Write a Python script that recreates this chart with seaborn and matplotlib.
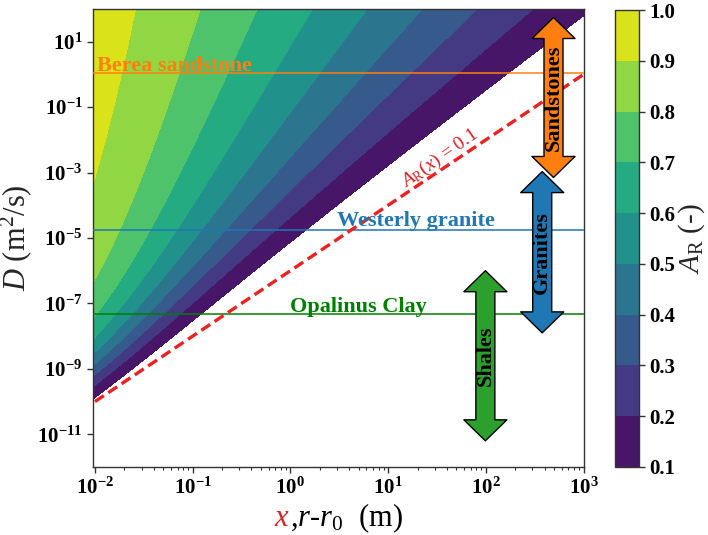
import numpy as np
import matplotlib
matplotlib.use("Agg")
import matplotlib.pyplot as plt
import seaborn as sns
from matplotlib.patches import ArrowStyle, FancyArrowPatch
from matplotlib.path import Path
from matplotlib.offsetbox import TextArea, HPacker, AnchoredOffsetbox
from matplotlib.ticker import NullLocator, LogLocator, FixedLocator

# ---------------- data ----------------
x_limits = [10 ** -2.02, 10 ** 3.005]          # x, r - r0 (m)
D_limits = [1e-12, 1e2]                          # D (m^2/s)
levels = [0.1, 0.2, 0.3, 0.4, 0.5, 0.6, 0.7, 0.8, 0.9, 1.0]
period_days = 7.0                                # forcing period
r0 = 0.01                                        # borehole radius (m)

material_names = ["Berea sandstone", "Westerly granite", "Opalinus Clay"]
material_D = [1.1, 1.8e-5, 4.6e-8]
material_line_colors = ["#ff7f0e", "#1f77b4", "#008000"]
material_label_x = [0.0105, 3.0, 1.0]
material_label_D = [1.29, 2.3e-5, 5.4e-8]

dashed_x = [1e-2, 1e3]
dashed_D = [1e-10, 1e0]

rock_names = ["Sandstones", "Granites", "Shales"]
rock_x = [493.0, 378.0, 99.0]
rock_D_top = [10 ** 1.74, 10 ** -2.97, 10 ** -6.0]
rock_D_bottom = [10 ** -3.15, 10 ** -7.9, 10 ** -11.2]
rock_colors = ["#ff7f0e", "#1f77b4", "#2ca02c"]

y_ticks = [1e-11, 1e-9, 1e-7, 1e-5, 1e-3, 1e-1, 1e1]


# ---------------- amplitude ratio field (radial flow) ----------------
def log_abs_K0(z):
    z = np.asarray(z, dtype=complex)
    out = np.empty(z.shape)
    small = np.abs(z) < 8
    zs = z[small]
    t = (zs / 2) ** 2
    term = np.ones_like(zs)
    I0 = np.ones_like(zs)
    S = np.zeros_like(zs)
    H = 0.0
    for k in range(1, 70):
        term = term * t / (k * k)
        H += 1.0 / k
        I0 = I0 + term
        S = S + term * H
    K = -(np.log(zs / 2) + np.euler_gamma) * I0 + S
    out[small] = np.log(np.abs(K))
    zl = z[~small]
    ser = np.ones_like(zl)
    c = np.ones_like(zl)
    for k in range(1, 10):
        c = c * (-(2 * k - 1) ** 2) / (k * 8 * zl)
        ser = ser + c
    out[~small] = 0.5 * np.log(np.pi / (2 * np.abs(zl))) - zl.real + np.log(np.abs(ser))
    return out


omega = 2 * np.pi / (period_days * 86400.0)
xg = np.logspace(np.log10(x_limits[0]), np.log10(x_limits[1]), 500)
Dg = np.logspace(np.log10(D_limits[0]), np.log10(D_limits[1]), 500)
X, DD = np.meshgrid(xg, Dg)
q = np.sqrt(omega / DD) * np.exp(1j * np.pi / 4)
A = np.exp(log_abs_K0((X + r0) * q) - log_abs_K0(r0 * q))


# ---------------- double arrow style ----------------
class FatDoubleArrow(ArrowStyle._Base):
    def __init__(self, shaft=19.0, head_width=43.0, head_length=21.0):
        self.shaft = shaft
        self.hw = head_width
        self.hl = head_length
        super().__init__()

    def transmute(self, path, mutation_size, linewidth):
        x0, y0 = path.vertices[0]
        x1, y1 = path.vertices[-1]
        dx, dy = x1 - x0, y1 - y0
        L = np.hypot(dx, dy)
        ux, uy = dx / L, dy / L
        nx, ny = -uy, ux
        s, w, h = self.shaft / 2, self.hw / 2, self.hl
        local = [(0, 0), (h, w), (h, s), (L - h, s), (L - h, w), (L, 0),
                 (L - h, -w), (L - h, -s), (h, -s), (h, -w), (0, 0)]
        verts = [(x0 + a * ux + b * nx, y0 + a * uy + b * ny) for a, b in local]
        return Path(verts, closed=True), True


# ---------------- style ----------------
sns.set_style("ticks")
plt.rcParams.update({
    "font.family": ["Liberation Serif", "DejaVu Serif"],
    "font.weight": "bold",
    "mathtext.fontset": "custom",
    "mathtext.rm": "Liberation Serif:weight=normal",
    "mathtext.it": "Liberation Serif:style=italic:weight=normal",
    "mathtext.bf": "Liberation Serif:weight=bold",
    "axes.edgecolor": "#333333",
    "axes.linewidth": 1.0,
    "xtick.color": "#333333",
    "ytick.color": "#333333",
    "xtick.labelcolor": "black",
    "ytick.labelcolor": "black",
})

fig = plt.figure(figsize=(7.08, 5.35), dpi=100)
ax = fig.add_axes([93 / 708, 1 - 467 / 535, (584 - 93) / 708, (467 - 9) / 535])
cax = fig.add_axes([615 / 708, 1 - 467 / 535, 24 / 708, (467 - 10) / 535])

cf = ax.contourf(X, DD, A, levels=levels, cmap="viridis")
ax.set_xscale("log")
ax.set_yscale("log")
ax.set_xlim(x_limits)
ax.set_ylim(D_limits)

# dashed 1-D threshold line
sns.lineplot(x=dashed_x, y=dashed_D, ax=ax, color="#ee2020", lw=2.4,
             linestyle=(0, (3.2, 1.6)), zorder=4)
ax.text(34, 2.75e-3, r"$A_\mathrm{R}(x)$ = 0.1", color="#e02020", fontsize=14,
        fontweight="normal", rotation=35, ha="center", va="center", zorder=5)

# material lines and labels
for name, d, col, lx, ld in zip(material_names, material_D, material_line_colors,
                                 material_label_x, material_label_D):
    ax.axhline(d, color=col, lw=1.1, zorder=3)
    ax.text(lx, ld, name, color=col, fontsize=16, fontweight="bold",
            ha="left", va="baseline", zorder=5)

# rock-type arrows
for name, xr, dt, db, col in zip(rock_names, rock_x, rock_D_top, rock_D_bottom, rock_colors):
    arr = FancyArrowPatch((xr, dt), (xr, db), arrowstyle=FatDoubleArrow(),
                          shrinkA=0, shrinkB=0, fc=col, ec="black", lw=1.0,
                          zorder=6, clip_on=False)
    ax.add_patch(arr)
    ax.text(xr, np.sqrt(dt * db), name, rotation=90, ha="center", va="center",
            fontsize=16, fontweight="bold", color="black", zorder=7)

# ticks
ax.yaxis.set_major_locator(FixedLocator(y_ticks))
ax.yaxis.set_minor_locator(NullLocator())
ax.xaxis.set_major_locator(LogLocator(base=10, numticks=10))
ax.xaxis.set_minor_locator(LogLocator(base=10, subs=np.arange(2, 10), numticks=20))
ax.tick_params(axis="both", which="major", labelsize=15, length=4, width=1, direction="out")
ax.tick_params(axis="x", which="minor", length=2, width=0.8)
for sp in ax.spines.values():
    sp.set_visible(True)

ax.set_ylabel(r"$D$ (m$^2$/s)", fontsize=22, fontweight="normal", labelpad=2)

# x label with red x
t1 = TextArea(r"$x$", textprops=dict(color="#e02020", fontsize=22, fontweight="normal"))
t2 = TextArea(r",$r$-$r_\mathit{0}$  (m)", textprops=dict(color="black", fontsize=22, fontweight="normal"))
box = HPacker(children=[t1, t2], align="baseline", pad=0, sep=0)
ab = AnchoredOffsetbox(loc="upper center", child=box, pad=0, frameon=False,
                       bbox_to_anchor=(0.5, -0.075), bbox_transform=ax.transAxes, borderpad=0)
ax.add_artist(ab)

# colorbar
cb = fig.colorbar(cf, cax=cax, ticks=levels)
cb.ax.set_yticklabels([f"{v:.1f}" for v in levels])
cb.ax.tick_params(labelsize=15, length=4, width=1)
cb.outline.set_edgecolor("#333333")
cb.set_label(r"$A_\mathrm{R}$ (-)", fontsize=21, fontweight="normal", labelpad=1)

fig.savefig("out.png", dpi=100)
